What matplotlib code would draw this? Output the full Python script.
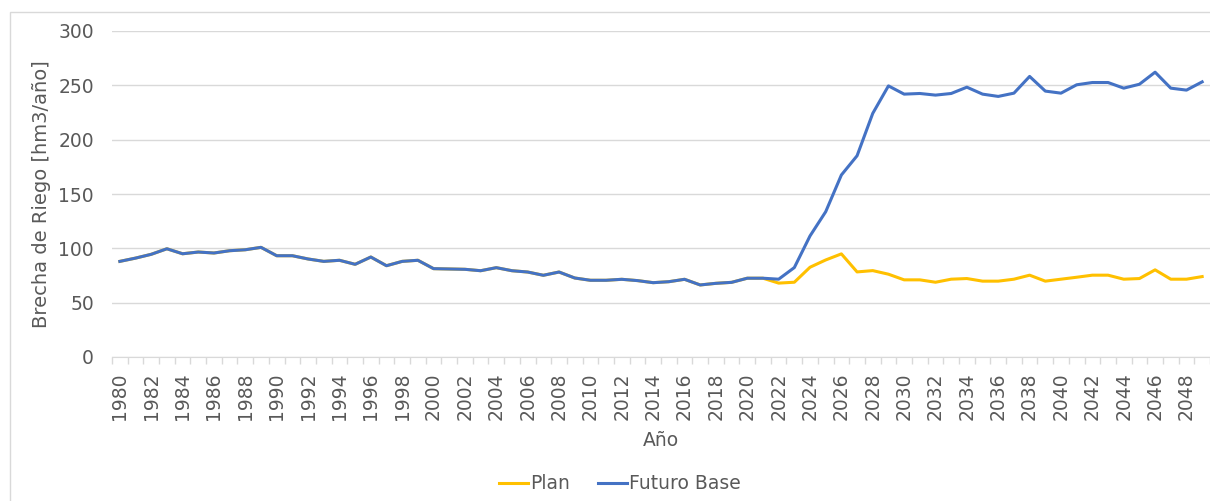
import matplotlib
matplotlib.use('Agg')
import matplotlib.pyplot as plt
import numpy as np
from matplotlib.patches import Rectangle

# Data
years = list(range(1980, 2050))

futuro_base = [88, 91, 94.5, 99.6, 95, 96.6, 95.7, 97.8, 98.7, 100.9,
               93.2, 93.2, 90.2, 88, 89, 85.3, 92, 84, 88, 89,
               81.3, 81, 80.7, 79.4, 82.2, 79.4, 78.2, 75.2, 78.2, 72.7,
               70.6, 70.6, 71.5, 70.3, 68.4, 69.3, 71.5, 66.3, 67.8, 68.7,
               72.5, 72.5, 71.6, 82.3, 111.4, 133.7, 167.5, 185.2, 224.2, 249.5,
               241.9, 242.5, 241, 242.5, 248.3, 241.9, 239.8, 242.8, 258.2, 244.7,
               242.8, 250.5, 252.6, 252.6, 247.4, 251, 262.1, 247.4, 245.6, 253.2]

# Plan follows the base series up to 2021
plan_2022_on = [68, 68.8, 82.6, 89.3, 94.9, 78.3, 79.5, 76.2,
                71, 71, 68.8, 71.6, 72.2, 69.8, 69.8, 71.6, 75.3, 69.8,
                71.6, 73.4, 75.3, 75.3, 71.6, 72.2, 80.2, 71.6, 71.6, 74]
plan = futuro_base[:42] + plan_2022_on

text_color = '#595959'
grid_color = '#D9D9D9'

fig = plt.figure(figsize=(12.1, 5.01), dpi=100)
ax = fig.add_axes([112 / 1210, 1 - 357 / 501, 1098 / 1210, 326 / 501])

idx = np.arange(len(years))
ax.plot(idx, plan, color='#FFC000', lw=2.2, label='Plan', solid_joinstyle='round')
ax.plot(idx, futuro_base, color='#4472C4', lw=2.2, label='Futuro Base', solid_joinstyle='round')

ax.set_xlim(-0.5, len(years) - 0.5)
ax.set_ylim(0, 300)
ax.set_yticks(range(0, 301, 50))
ax.yaxis.grid(True, color=grid_color, lw=1)
ax.set_axisbelow(True)

# labels every 2 years at category centres, small ticks between categories
ax.set_xticks(idx[::2])
ax.set_xticklabels([str(y) for y in years[::2]], rotation=90)
ax.set_xticks(np.arange(-0.5, len(years)), minor=True)
ax.tick_params(axis='x', which='major', length=0, pad=11, labelsize=13.5, labelcolor=text_color)
ax.tick_params(axis='x', which='minor', length=5, color=grid_color, width=1)
ax.tick_params(axis='y', length=0, pad=13, labelsize=13.5, labelcolor=text_color)

for side in ['top', 'right', 'left']:
    ax.spines[side].set_visible(False)
ax.spines['bottom'].set_color(grid_color)

ax.set_xlabel('Año', fontsize=13.5, color=text_color, labelpad=8)
ax.set_ylabel('Brecha de Riego [hm3/año]', fontsize=14, color=text_color, labelpad=5)

fig.legend(loc='center', bbox_to_anchor=(0.512, 0.034), ncol=2, frameon=False,
           fontsize=13.5, labelcolor=text_color, handlelength=1.55,
           handletextpad=0.1, columnspacing=1.5)

# light chart border
fig.patches.append(Rectangle((10 / 1210, -0.1), 1.2, 1 - 12 / 501 + 0.1,
                             transform=fig.transFigure, fill=False,
                             edgecolor=grid_color, lw=1))

fig.savefig('out.png', dpi=100)
